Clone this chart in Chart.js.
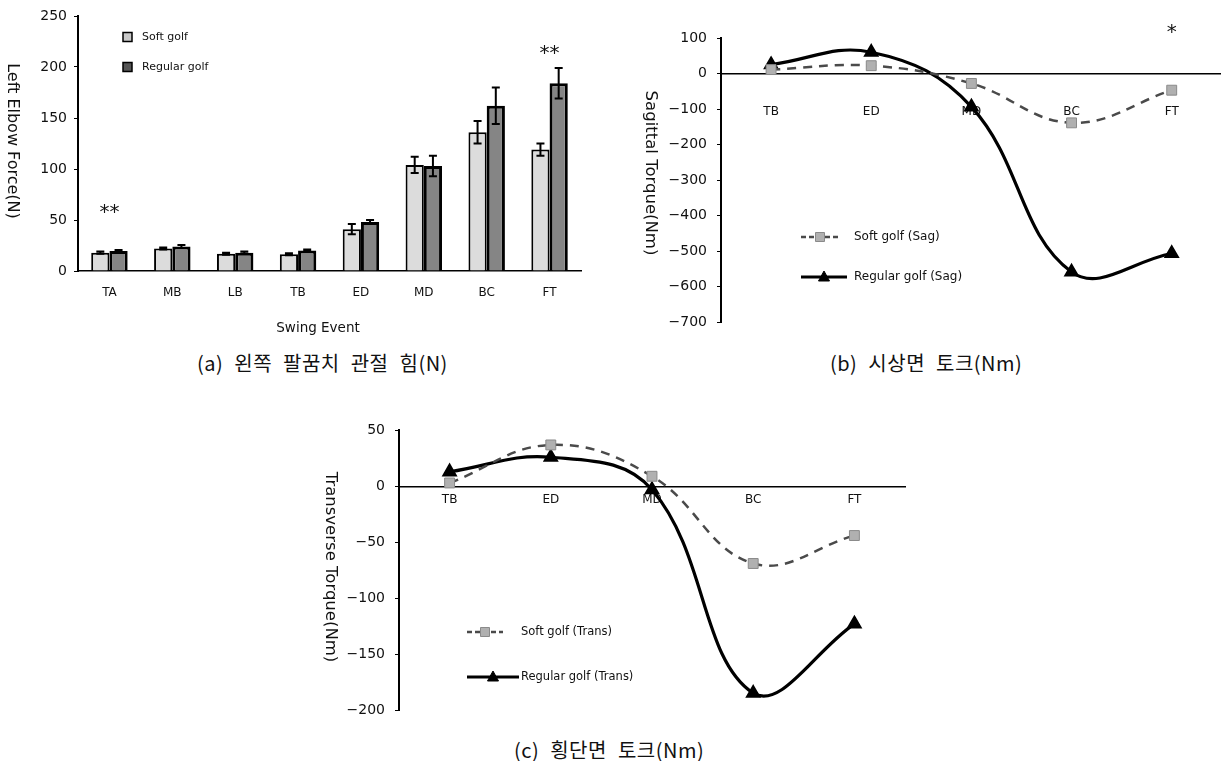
<!DOCTYPE html>
<html><head><meta charset="utf-8">
<script src="https://cdn.jsdelivr.net/npm/chart.js@4.4.1/dist/chart.umd.min.js"></script>
<style>
html,body{margin:0;padding:0;background:#fff;width:1221px;height:761px;overflow:hidden;position:relative;}
canvas{position:absolute;}
.cap{position:absolute;font-family:"Noto Sans CJK KR";font-size:20px;color:#111;white-space:nowrap;line-height:1;transform:translateY(-50%);word-spacing:6px;letter-spacing:0.5px;}
</style></head><body>
<canvas id="ca" width="600" height="345" style="left:0;top:0"></canvas>
<canvas id="cb" width="631" height="345" style="left:600px;top:0"></canvas>
<canvas id="cc" width="620" height="318" style="left:300px;top:412px"></canvas>
<div class="cap" style="left:197px;top:363px">(a) 왼쪽 팔꿈치 관절 힘(N)</div>
<div class="cap" style="left:830px;top:363px">(b) 시상면 토크(Nm)</div>
<div class="cap" style="left:514px;top:750px">(c) 횡단면 토크(Nm)</div>
<script>
// ---- data ----
const forceEvents = ['TA','MB','LB','TB','ED','MD','BC','FT'];
const softForce = [18, 22, 17, 16.5, 41, 104, 136, 119];
const softForceErr = [1, 1, 1, 1, 5, 8, 11, 6];
const regularForce = [19.5, 24, 18, 20, 48, 103, 162, 184];
const regularForceErr = [1, 1.5, 1, 1, 2, 10, 18, 15];
const forceTicks = [0, 50, 100, 150, 200, 250];
const forceStars = [{index: 0, value: 57, text: '**'}, {index: 7, value: 213, text: '**'}];

const torqueEvents = ['TB','ED','MD','BC','FT'];
const softSag = [11, 22, -28, -139, -47];
const regularSag = [25, 60, -94, -559, -507];
const sagTicks = [-700, -600, -500, -400, -300, -200, -100, 0, 100];
const sagStars = [{index: 4, value: 116, text: '*'}];

const softTrans = [3, 37, 9, -69, -44];
const regularTrans = [13, 26, -3, -185, -123];
const transTicks = [-200, -150, -100, -50, 0, 50];

// ---- helpers ----
const FONT = '"DejaVu Sans"';
const minus = v => String(v).replace('-', '\u2212');

function drawMarker(ctx, style, x, y, size, fill, stroke) {
  ctx.save();
  ctx.fillStyle = fill; ctx.strokeStyle = stroke; ctx.lineWidth = 1; ctx.setLineDash([]);
  ctx.beginPath();
  if (style === 'rect') { ctx.rect(x - size/2, y - size/2, size, size); }
  else if (style === 'triangle') { ctx.moveTo(x, y - size*0.6); ctx.lineTo(x + size*0.55, y + size*0.4); ctx.lineTo(x - size*0.55, y + size*0.4); ctx.closePath(); }
  ctx.fill(); ctx.stroke();
  ctx.restore();
}

const decor = {
  id: 'decor',
  afterDraw(chart, args, o) {
    const ctx = chart.ctx;
    (o.texts || []).forEach(t => {
      ctx.save(); ctx.translate(t.x, t.y); if (t.rot) ctx.rotate(t.rot);
      ctx.font = t.font; ctx.fillStyle = '#111'; ctx.textAlign = t.align || 'center'; ctx.textBaseline = 'middle';
      ctx.fillText(t.text, 0, 0); ctx.restore();
    });
    (o.legend || []).forEach(l => {
      ctx.save();
      if (l.line) {
        ctx.strokeStyle = l.line.color; ctx.lineWidth = l.line.width; ctx.setLineDash(l.line.dash || []);
        ctx.beginPath(); ctx.moveTo(l.x1, l.y); ctx.lineTo(l.x2, l.y); ctx.stroke();
      }
      if (l.marker) drawMarker(ctx, l.marker.style, (l.x1 + l.x2)/2, l.y, l.marker.size, l.marker.fill, l.marker.stroke);
      if (l.box) {
        ctx.fillStyle = l.box.fill; ctx.strokeStyle = '#000'; ctx.lineWidth = l.box.lw;
        ctx.fillRect(l.x1, l.y - l.box.size/2, l.box.size, l.box.size);
        ctx.strokeRect(l.x1, l.y - l.box.size/2, l.box.size, l.box.size);
      }
      ctx.font = l.font; ctx.fillStyle = '#111'; ctx.textAlign = 'left'; ctx.textBaseline = 'middle';
      ctx.fillText(l.text, l.tx, l.y);
      ctx.restore();
    });
    if (o.stars) {
      const xs = chart.scales.x, ys = chart.scales.y;
      o.stars.list.forEach(s => {
        ctx.save(); ctx.font = o.stars.font; ctx.fillStyle = '#111'; ctx.textAlign = 'center'; ctx.textBaseline = 'middle';
        ctx.fillText(s.text, xs.getPixelForValue(s.index), ys.getPixelForValue(s.value));
        ctx.restore();
      });
    }
  }
};

const errorBars = {
  id: 'errorBars',
  afterDatasetsDraw(chart, args, o) {
    if (!o.errors) return;
    const ctx = chart.ctx, ys = chart.scales.y;
    chart.data.datasets.forEach((ds, i) => {
      const meta = chart.getDatasetMeta(i), err = o.errors[i];
      meta.data.forEach((el, j) => {
        const v = ds.data[j], e = err[j];
        const yt = ys.getPixelForValue(v + e), yb = ys.getPixelForValue(v - e), x = el.x;
        ctx.save(); ctx.strokeStyle = '#000'; ctx.lineWidth = 2;
        ctx.beginPath();
        ctx.moveTo(x, yt); ctx.lineTo(x, yb);
        ctx.moveTo(x - 4, yt); ctx.lineTo(x + 4, yt);
        ctx.moveTo(x - 4, yb); ctx.lineTo(x + 4, yb);
        ctx.stroke(); ctx.restore();
      });
    });
  }
};

const ROT = Math.PI / 2;

// ---- chart (a) ----
new Chart(document.getElementById('ca'), {
  type: 'bar',
  data: {
    labels: forceEvents,
    datasets: [
      {label: 'Soft golf', data: softForce, backgroundColor: '#dcdcdc', borderColor: '#000', borderWidth: 2, categoryPercentage: 0.58, barPercentage: 1.0},
      {label: 'Regular golf', data: regularForce, backgroundColor: '#858585', borderColor: '#000', borderWidth: 3, categoryPercentage: 0.58, barPercentage: 1.0}
    ]
  },
  options: {
    responsive: false, animation: false,
    layout: {padding: {top: 16, right: 19, bottom: 0, left: 0}},
    scales: {
      x: {
        grid: {display: false, drawTicks: false},
        border: {display: true, color: '#000', width: 1.5},
        ticks: {color: '#111', font: {family: FONT, size: 12}, padding: 15, maxRotation: 0},
        afterFit: s => { s.height = 74; }
      },
      y: {
        min: forceTicks[0], max: forceTicks[forceTicks.length - 1],
        afterBuildTicks: s => { s.ticks = forceTicks.map(v => ({value: v})); },
        grid: {display: true, drawOnChartArea: false, drawTicks: true, tickLength: 4, color: '#000'},
        border: {display: true, color: '#000', width: 2},
        ticks: {color: '#111', font: {family: FONT, size: 14}, padding: 7, callback: minus},
        afterFit: s => { s.width = 78; }
      }
    },
    plugins: {
      legend: {display: false}, tooltip: {enabled: false},
      errorBars: {errors: [softForceErr, regularForceErr]},
      decor: {
        texts: [
          {text: 'Left Elbow Force(N)', x: 12, y: 141, rot: ROT, font: '16px ' + FONT},
          {text: 'Swing Event', x: 318, y: 328, font: '13.5px ' + FONT}
        ],
        legend: [
          {x1: 123, y: 37, box: {size: 9, fill: '#c8c8c8', lw: 1.5}, text: 'Soft golf', tx: 142, font: '11px ' + FONT},
          {x1: 123, y: 67, box: {size: 9, fill: '#555', lw: 1.5}, text: 'Regular golf', tx: 142, font: '11px ' + FONT}
        ],
        stars: {list: forceStars, font: '20px ' + FONT}
      }
    }
  },
  plugins: [errorBars, decor]
});

function torqueChart(id, softData, regData, ticks, cfg) {
  new Chart(document.getElementById(id), {
    type: 'line',
    data: {
      labels: torqueEvents,
      datasets: [
        {label: cfg.softLabel, data: softData, borderColor: '#4a4a4a', borderWidth: 2.5, borderDash: [9, 7], tension: 0.4,
         pointStyle: 'rect', pointRadius: 7, pointBackgroundColor: '#b0b0b0', pointBorderColor: '#8a8a8a', pointBorderWidth: 1, fill: false},
        {label: cfg.regLabel, data: regData, borderColor: '#000', borderWidth: 3.2, tension: 0.4,
         pointStyle: 'triangle', pointRadius: 6, pointBackgroundColor: '#000', pointBorderColor: '#000', fill: false}
      ]
    },
    options: {
      responsive: false, animation: false,
      layout: {padding: cfg.padding},
      scales: {
        x: {
          offset: true,
          position: {y: 0},
          grid: {display: false, drawTicks: false},
          border: {display: true, color: '#000', width: 1.5},
          ticks: {color: '#111', font: {family: FONT, size: 12}, padding: cfg.xPad, maxRotation: 0},
          afterFit: s => { s.height = 0; }
        },
        y: {
          min: ticks[0], max: ticks[ticks.length - 1],
          afterBuildTicks: s => { s.ticks = ticks.map(v => ({value: v})); },
          grid: {display: true, drawOnChartArea: false, drawTicks: true, tickLength: 4, color: '#000'},
          border: {display: true, color: '#000', width: 2},
          ticks: {color: '#111', font: {family: FONT, size: 14}, padding: 10, callback: minus},
          afterFit: s => { s.width = cfg.yWidth; }
        }
      },
      plugins: {
        legend: {display: false}, tooltip: {enabled: false},
        decor: cfg.decor
      }
    },
    plugins: [decor]
  });
}

const softLeg = {color: '#4a4a4a', width: 2.5, dash: [5, 3]};
const regLeg = {color: '#000', width: 3.2};

torqueChart('cb', softSag, regularSag, sagTicks, {
  softLabel: 'Soft golf (Sag)', regLabel: 'Regular golf (Sag)',
  padding: {top: 38, right: 0, bottom: 23, left: 0}, yWidth: 121, xPad: 31,
  decor: {
    texts: [{text: 'Sagittal Torque(Nm)', x: 50, y: 173, rot: ROT, font: '16.5px ' + FONT}],
    legend: [
      {x1: 201, x2: 239, y: 237, line: softLeg, marker: {style: 'rect', size: 9, fill: '#b0b0b0', stroke: '#8a8a8a'}, text: 'Soft golf (Sag)', tx: 254, font: '12px ' + FONT},
      {x1: 201, x2: 247, y: 277, line: regLeg, marker: {style: 'triangle', size: 10, fill: '#000', stroke: '#000'}, text: 'Regular golf (Sag)', tx: 254, font: '12px ' + FONT}
    ],
    stars: {list: sagStars, font: '20px ' + FONT}
  }
});

torqueChart('cc', softTrans, regularTrans, transTicks, {
  softLabel: 'Soft golf (Trans)', regLabel: 'Regular golf (Trans)',
  padding: {top: 18, right: 15, bottom: 20, left: 0}, yWidth: 99, xPad: 6,
  decor: {
    texts: [{text: 'Transverse Torque(Nm)', x: 30, y: 155, rot: ROT, font: '16.5px ' + FONT}],
    legend: [
      {x1: 167, x2: 203, y: 220, line: softLeg, marker: {style: 'rect', size: 9, fill: '#b0b0b0', stroke: '#8a8a8a'}, text: 'Soft golf (Trans)', tx: 221, font: '11.5px ' + FONT},
      {x1: 167, x2: 219, y: 265, line: regLeg, marker: {style: 'triangle', size: 10, fill: '#000', stroke: '#000'}, text: 'Regular golf (Trans)', tx: 221, font: '11.5px ' + FONT}
    ]
  }
});
</script>
</body></html>
